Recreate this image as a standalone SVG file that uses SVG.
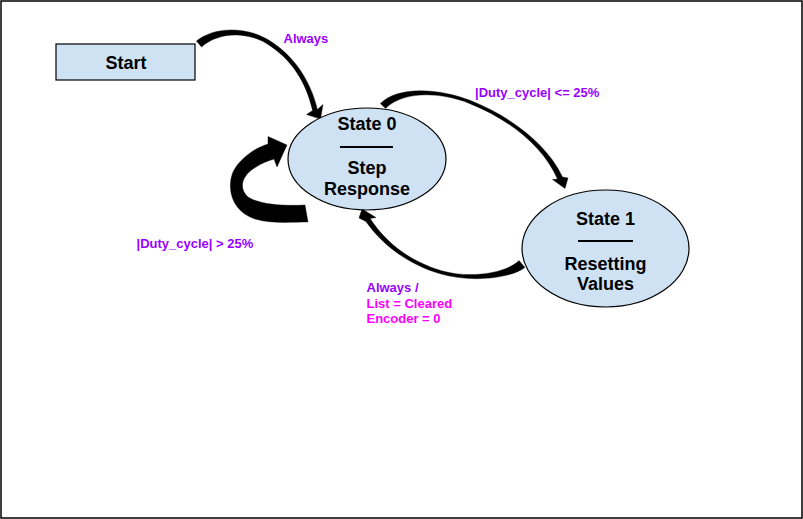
<svg xmlns="http://www.w3.org/2000/svg" width="803" height="519" viewBox="0 0 803 519">
<style>
.node{fill:#cfe2f3;stroke:#000;stroke-width:1.2}
.t{font-family:"Liberation Sans",Arial,sans-serif;font-weight:bold;font-size:18px;fill:#000;text-anchor:middle}
.lbl{font-family:"Liberation Sans",Arial,sans-serif;font-weight:bold;font-size:13px}
.pu{fill:#9900ff}
.mg{fill:#ff00ff}
.rule{stroke:#000;stroke-width:2}
.arr{fill:#000;stroke:#000;stroke-width:0.4;stroke-linejoin:round}
</style>
<rect x="1" y="1" width="801" height="517" fill="#fff" stroke="#000" stroke-width="1.5"/>
<g id="connectors">
<path class="arr" d="M196.4,41 C213.6,26.9 245.4,25.8 269.1,40.3 C293.1,55.3 310.1,79.1 317.4,109.4 L323,104.5 L320.5,119 L306.5,114.5 L312.6,110.6 C305.9,80.9 290.9,58.7 266.9,43.7 C244.6,30.2 216.4,33.1 201.6,47 Z"/>
<path class="arr" d="M380.4,103.6 C398,85.5 440,88.5 470.6,100.6 C510.6,116.6 547,144 562.5,176.9 L568,178 L565,188.5 L552.5,179.5 L557.5,179.1 C543,146 509.4,119.4 469.4,103.4 C439.5,91.5 403,91 385.6,108.4 Z"/>
<path class="arr" d="M519.1,260.6 C505.7,273.3 470.2,279.2 440.5,270.4 C410.5,261.4 386.5,243.6 370.1,218.6 L376,217.5 L362,209 L359,218 L365.9,221.4 C383.5,246.4 409.5,264.6 439.5,273.6 C469.8,282.8 510.3,278.7 524.9,267.4 Z"/>
<path class="arr" d="M308,222 L305,205 C285,206 260,205 248,197 C238,188 242,175 256,167 C262,163 268,161 274,159 L277,167 L287,145 L268,136.5 L268,144 C255,148 240,158 233,172 C226,190 233,212 255,219 C272,224 292,222 308,222 Z"/>
</g>
<g id="start">
<rect class="node" x="56" y="44" width="139" height="36" stroke-width="1.5"/>
<text class="t" x="126" y="69">Start</text>
</g>
<g id="state0">
<ellipse class="node" cx="367" cy="159" rx="79" ry="51"/>
<text class="t" x="367" y="129.5">State 0</text>
<line class="rule" x1="340" y1="147" x2="393" y2="147"/>
<text class="t" x="367" y="174">Step</text>
<text class="t" x="367" y="194.5">Response</text>
</g>
<g id="state1">
<ellipse class="node" cx="605.5" cy="248.5" rx="83.5" ry="58.5"/>
<text class="t" x="605.5" y="224.5">State 1</text>
<line class="rule" x1="578" y1="241" x2="633" y2="241"/>
<text class="t" x="605.5" y="269.5">Resetting</text>
<text class="t" x="605.5" y="290">Values</text>
</g>
<g id="labels">
<text class="lbl pu" x="283.5" y="43">Always</text>
<text class="lbl pu" x="475" y="97">|Duty_cycle| &lt;= 25%</text>
<text class="lbl pu" x="136.5" y="248">|Duty_cycle| &gt; 25%</text>
<text class="lbl pu" x="366.5" y="292">Always /</text>
<text class="lbl mg" x="366.5" y="307.5">List = Cleared</text>
<text class="lbl mg" x="366.5" y="323">Encoder = 0</text>
</g>
</svg>
